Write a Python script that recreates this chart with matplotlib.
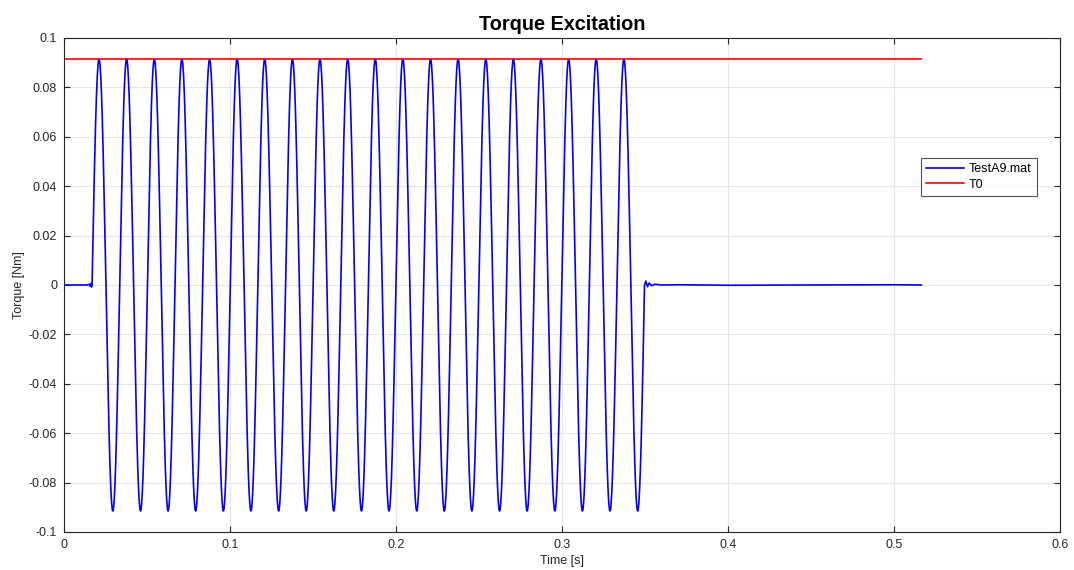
import numpy as np
import matplotlib
matplotlib.use("Agg")
import matplotlib.pyplot as plt

plt.rcParams['font.family'] = ['Liberation Sans', 'DejaVu Sans']

# --- data ---
# extrema of the torque excitation (time [s], torque [Nm]), alternating max/min
extrema_times = [0.0169, 0.0211, 0.0294, 0.0377, 0.0461, 0.0544, 0.0627, 0.0710, 0.0793,
                 0.0877, 0.0960, 0.1043, 0.1126, 0.1209, 0.1293, 0.1376, 0.1459, 0.1542,
                 0.1625, 0.1709, 0.1792, 0.1875, 0.1958, 0.2041, 0.2125, 0.2208, 0.2291,
                 0.2374, 0.2457, 0.2541, 0.2624, 0.2707, 0.2790, 0.2873, 0.2957, 0.3040,
                 0.3123, 0.3206, 0.3289, 0.3373, 0.3456, 0.3497]
extrema_values = [0.0] + [0.0915, -0.0915] * 20 + [0.0]

# quiet part before and after the excitation
pre_times = [0.0, 0.0140, 0.0150, 0.0158, 0.0163, 0.0166, 0.0169]
pre_values = [0.0, 0.0, 0.0003, -0.0005, 0.0006, -0.0008, 0.0]
post_times = [0.3497, 0.3505, 0.3515, 0.3525, 0.3540, 0.3560, 0.3600, 0.3700, 0.4000, 0.4500, 0.5000, 0.5165]
post_values = [0.0, 0.0016, -0.0007, 0.0008, -0.0003, 0.0003, 0.0, 0.0001, -0.0001, 0.0, 0.0001, 0.0]

T0 = 0.0915
T0_span = [0.0, 0.5165]

# --- build the drawn curve: half-cosine segments between successive extrema ---
t_all, y_all = list(pre_times[:-1]), list(pre_values[:-1])
for i in range(len(extrema_times) - 1):
    ta, tb = extrema_times[i], extrema_times[i + 1]
    ya, yb = extrema_values[i], extrema_values[i + 1]
    s = np.linspace(0, 1, 40, endpoint=False)
    if i == 0:
        seg = ya + (yb - ya) * np.sin(s * np.pi / 2)
    elif i == len(extrema_times) - 2:
        seg = ya + (yb - ya) * (1 - np.cos(s * np.pi / 2))
    else:
        seg = ya + (yb - ya) * (1 - np.cos(s * np.pi)) / 2
    t_all.extend(ta + (tb - ta) * s)
    y_all.extend(seg)
t_all.extend(post_times)
y_all.extend(post_values)

fig = plt.figure(figsize=(10.74, 5.70), dpi=100)
ax = fig.add_axes([64 / 1074, 38 / 570, (1060 - 64) / 1074, (532 - 38) / 570])

ax.plot(t_all, y_all, color='#0000ff', lw=1.2, label='TestA9.mat')
ax.plot(T0_span, [T0, T0], color='#ff0000', lw=1.2, label='T0')

ax.set_xlim(0, 0.6)
ax.set_ylim(-0.1, 0.1)
ax.set_xticks(np.arange(0, 0.61, 0.1))
ax.set_xticklabels(['0', '0.1', '0.2', '0.3', '0.4', '0.5', '0.6'])
ax.set_yticks(np.arange(-0.1, 0.1001, 0.02))
ax.set_yticklabels(['-0.1', '-0.08', '-0.06', '-0.04', '-0.02', '0',
                    '0.02', '0.04', '0.06', '0.08', '0.1'])
ax.grid(True, color='#e6e6e6', lw=0.8)
ax.set_axisbelow(True)
ax.tick_params(direction='in', length=4, width=0.8, top=True, right=True,
               labelsize=9, colors='#262626', pad=5)
for sp in ax.spines.values():
    sp.set_color('#262626')
    sp.set_linewidth(0.8)

ax.set_xlabel('Time [s]', fontsize=9, color='#262626', labelpad=3)
ax.set_ylabel('Torque [Nm]', fontsize=9, color='#262626', labelpad=3)
ax.set_title('Torque Excitation', fontsize=14.3, fontweight='bold', pad=6)

leg = ax.legend(loc='upper left', bbox_to_anchor=((921 - 64) / 996, 1 - (158 - 38) / 494),
                fontsize=9, frameon=True, fancybox=False, borderpad=0.4,
                handlelength=3.0, handletextpad=0.45, labelspacing=0.3, borderaxespad=0)
leg.get_frame().set_edgecolor('#262626')
leg.get_frame().set_linewidth(0.8)

fig.savefig('out.png', dpi=100)
